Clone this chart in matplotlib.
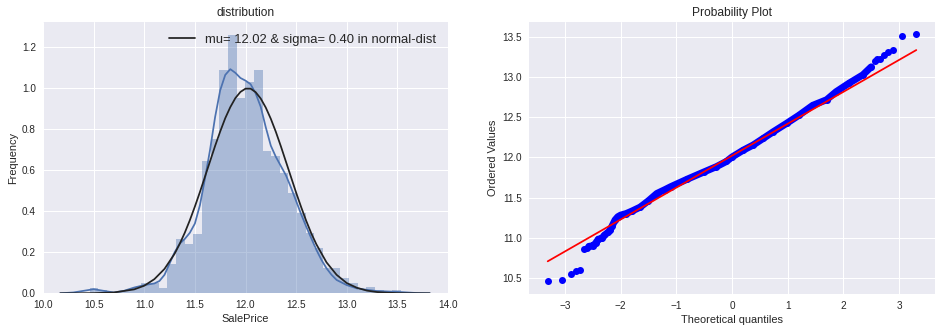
import numpy as np
import matplotlib
matplotlib.use("Agg")
import matplotlib.pyplot as plt

plt.style.use(["seaborn-v0_8-darkgrid", "seaborn-v0_8-notebook"])
plt.rcParams["font.family"] = ["Liberation Sans", "DejaVu Sans"]

# ---------------- data ----------------
# histogram of log(SalePrice): 36 equal bins between data min and max
data_min = 10.4603
data_max = 13.5345
n_bins = 36
hist_density = [0.024, 0.016, 0.0, 0.008, 0.016, 0.024, 0.048, 0.048, 0.024,
                0.141, 0.263, 0.241, 0.290, 0.645, 0.753, 1.089, 1.260, 0.954,
                1.032, 1.089, 0.694, 0.670, 0.585, 0.488, 0.393, 0.293, 0.222,
                0.122, 0.122, 0.077, 0.050, 0.016, 0.030, 0.016, 0.0, 0.016]

# KDE curve (blue)
kde_x = [10.17, 10.3, 10.4, 10.5, 10.6, 10.7, 10.8, 10.9, 11.0, 11.1, 11.15,
         11.2, 11.25, 11.3, 11.35, 11.4, 11.45, 11.5, 11.55, 11.6, 11.65, 11.7,
         11.75, 11.8, 11.85, 11.9, 11.95, 12.0, 12.05, 12.1, 12.15, 12.2, 12.25,
         12.3, 12.35, 12.4, 12.45, 12.5, 12.55, 12.6, 12.65, 12.7, 12.75, 12.8,
         12.85, 12.9, 13.0, 13.1, 13.2, 13.3, 13.4, 13.5, 13.6, 13.7, 13.82]
kde_y = [0.0, 0.004, 0.012, 0.02, 0.012, 0.004, 0.012, 0.028, 0.04, 0.048, 0.06,
         0.09, 0.145, 0.2, 0.242, 0.265, 0.295, 0.34, 0.43, 0.56, 0.70, 0.86,
         0.99, 1.065, 1.093, 1.075, 1.05, 1.037, 1.02, 0.975, 0.91, 0.81, 0.72,
         0.665, 0.62, 0.575, 0.515, 0.45, 0.385, 0.325, 0.268, 0.212, 0.163, 0.122,
         0.09, 0.065, 0.04, 0.024, 0.017, 0.011, 0.009, 0.007, 0.004, 0.001, 0.0]

# fitted normal curve (black)
fit_x = [10.17, 10.3, 10.5, 10.7, 10.9, 11.0, 11.1, 11.2, 11.3, 11.35, 11.4,
         11.45, 11.5, 11.55, 11.6, 11.65, 11.7, 11.75, 11.8, 11.85, 11.9, 11.95,
         12.0, 12.05, 12.1, 12.15, 12.2, 12.25, 12.3, 12.35, 12.4, 12.45, 12.5,
         12.55, 12.6, 12.65, 12.7, 12.8, 12.9, 13.0, 13.1, 13.2, 13.3, 13.4,
         13.5, 13.6, 13.82]
fit_y = [0.0, 0.0001, 0.0007, 0.004, 0.019, 0.037, 0.069, 0.119, 0.193, 0.241,
         0.295, 0.356, 0.423, 0.494, 0.569, 0.644, 0.719, 0.789, 0.854, 0.908,
         0.952, 0.982, 0.998, 0.998, 0.981, 0.950, 0.906, 0.851, 0.787, 0.716,
         0.641, 0.566, 0.491, 0.420, 0.353, 0.292, 0.239, 0.151, 0.090, 0.050,
         0.027, 0.013, 0.006, 0.003, 0.001, 0.0004, 0.0]
fit_label = "mu= 12.02 & sigma= 0.40 in normal-dist"

# probability plot: ordered values vs theoretical quantiles
qq_tail_low_q = [-3.31, -3.05, -2.90, -2.81, -2.73, -2.66, -2.61]
qq_tail_low_v = [10.46, 10.47, 10.54, 10.58, 10.60, 10.86, 10.87]
qq_band_q = [-2.57, -2.49, -2.45, -2.40, -2.34, -2.29, -2.22, -2.19, -2.15,
             -2.10, -2.05, -2.00, -1.90, -1.80, -1.65, -1.50, -1.35, -1.20,
             -1.10, -0.80, -0.50, -0.28, -0.10, 0.00, 0.20, 0.38, 0.56, 0.74,
             0.98, 1.20, 1.45, 1.70, 1.87, 2.10, 2.35, 2.50]
qq_band_v = [10.89, 10.90, 10.93, 10.98, 10.99, 11.03, 11.07, 11.09, 11.15,
             11.22, 11.26, 11.28, 11.30, 11.33, 11.38, 11.46, 11.55, 11.60,
             11.635, 11.73, 11.82, 11.885, 11.95, 12.005, 12.09, 12.155, 12.237,
             12.32, 12.425, 12.525, 12.65, 12.72, 12.82, 12.925, 13.03, 13.13]
qq_tail_high_q = [2.57, 2.61, 2.66, 2.73, 2.81, 2.90, 3.05, 3.31]
qq_tail_high_v = [13.20, 13.23, 13.23, 13.28, 13.32, 13.345, 13.52, 13.535]
fit_line_q = [-3.31, 3.31]
fit_line_v = [10.704, 13.34]

# ---------------- figure ----------------
W, H = 942, 332
fig = plt.figure(figsize=(W / 72, H / 72), dpi=72)
ax1 = fig.add_axes([43 / W, 1 - 293.3 / H, 405 / W, 271.3 / H])
ax2 = fig.add_axes([529 / W, 1 - 293.7 / H, 406 / W, 271.7 / H])

edges = np.linspace(data_min, data_max, n_bins + 1)
ax1.bar(edges[:-1], hist_density, width=np.diff(edges), align="edge",
        color="#4C72B0", alpha=0.4, linewidth=0)
ax1.plot(kde_x, kde_y, color="#4C72B0", lw=1.75)
fit_line, = ax1.plot(fit_x, fit_y, color="#222222", lw=1.75)
ax1.set_xlim(10.0, 14.0)
ax1.set_ylim(0, 1.323)
ax1.set_xticks(np.arange(10.0, 14.01, 0.5))
ax1.set_yticks(np.arange(0, 1.21, 0.2))
ax1.set_xlabel("SalePrice")
ax1.set_ylabel("Frequency")
ax1.set_title("distribution")
ax1.legend([fit_line], [fit_label], loc="upper right", fontsize=13, frameon=False)

allq = qq_tail_low_q + qq_band_q + qq_tail_high_q
allv = qq_tail_low_v + qq_band_v + qq_tail_high_v
ax2.plot(qq_band_q, qq_band_v, color="#0000FF", lw=7, solid_capstyle="round",
         solid_joinstyle="round")
ax2.plot(allq, allv, "o", color="#0000FF", ms=7, mew=0)
ax2.plot(fit_line_q, fit_line_v, color="#FF0000", lw=1.75)
ax2.set_xlim(-3.646, 3.646)
ax2.set_ylim(10.30, 13.69)
ax2.set_xticks([-3, -2, -1, 0, 1, 2, 3])
ax2.set_yticks(np.arange(10.5, 13.51, 0.5))
ax2.set_xlabel("Theoretical quantiles")
ax2.set_ylabel("Ordered Values")
ax2.set_title("Probability Plot")

fig.savefig("out.png", dpi=72)
